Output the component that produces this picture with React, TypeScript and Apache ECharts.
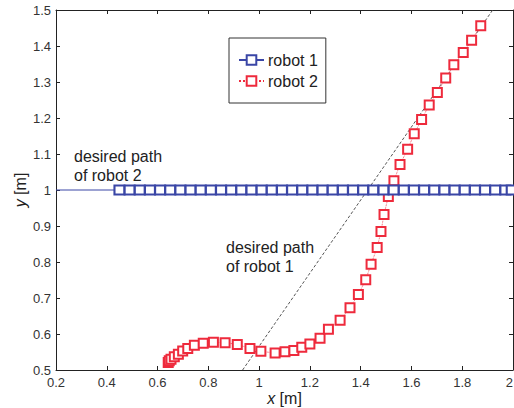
import React, { useEffect, useRef } from "react";
import * as echarts from "echarts";

// robot 2 trajectory samples (x [m], y [m])
const robot2X = [
  0.642, 0.646, 0.653, 0.666, 0.682, 0.699, 0.719, 0.745, 0.78, 0.82, 0.866, 0.914, 0.964, 1.007,
  1.063, 1.102, 1.137, 1.168, 1.2, 1.24, 1.273, 1.319, 1.358, 1.391, 1.42, 1.441, 1.465, 1.48,
  1.492, 1.509, 1.531, 1.555, 1.585, 1.611, 1.64, 1.67, 1.702, 1.735, 1.767, 1.804, 1.837, 1.873,
];
const robot2Y = [
  0.521, 0.526, 0.53, 0.537, 0.544, 0.553, 0.56, 0.569, 0.574, 0.577, 0.576, 0.571, 0.56, 0.552,
  0.547, 0.551, 0.554, 0.563, 0.572, 0.588, 0.613, 0.638, 0.673, 0.71, 0.751, 0.794, 0.84, 0.885,
  0.932, 0.982, 1.026, 1.071, 1.113, 1.156, 1.196, 1.236, 1.271, 1.311, 1.348, 1.382, 1.416, 1.456,
];

// robot 1 trajectory samples (moves along y = 1)
const robot1X = [
  0.45, 0.49, 0.53, 0.57, 0.61, 0.65, 0.69, 0.73, 0.77, 0.81, 0.85, 0.89, 0.93, 0.97, 1.01, 1.05,
  1.09, 1.13, 1.17, 1.21, 1.25, 1.29, 1.33, 1.37, 1.41, 1.45, 1.49, 1.53, 1.57, 1.61, 1.65, 1.69,
  1.73, 1.77, 1.81, 1.85, 1.89, 1.93, 1.97, 1.995,
];
const robot1Y = robot1X.map(() => 1);

// desired paths
const path2X = [0.2, 2];
const path2Y = [1, 1];
const path1X = [0.935, 1.92];
const path1Y = [0.5, 1.5];

const xTicks = { min: 0.2, max: 2, interval: 0.2 };
const yTicks = { min: 0.5, max: 1.5, interval: 0.1 };

const BLUE = "#3a46a6";
const RED = "#ee2a3c";
const AXIS = "#222";
const FONT = "Liberation Sans, Arial, Helvetica, sans-serif";

const zip = (xs: number[], ys: number[]) => xs.map((x, i) => [x, ys[i]]);

export default function App() {
  const ref = useRef<HTMLDivElement>(null);
  useEffect(() => {
    if (!ref.current) return;
    const chart = echarts.init(ref.current, undefined, { renderer: "svg" });
    const axisCommon = {
      axisLine: { show: true, lineStyle: { color: AXIS, width: 1 } },
      axisTick: { show: true, inside: true, length: 4, lineStyle: { color: AXIS } },
      splitLine: { show: false },
    };
    chart.setOption({
      animation: false,
      backgroundColor: "#fff",
      textStyle: { fontFamily: FONT },
      grid: { left: 56, right: 1, top: 10, bottom: 38, containLabel: false, outerBoundsMode: "none" },
      legend: {
        orient: "vertical",
        left: 229,
        top: 38,
        padding: [14, 8, 14, 9],
        itemGap: 5,
        itemWidth: 25,
        itemHeight: 12,
        borderColor: "#333",
        borderWidth: 1,
        backgroundColor: "#fff",
        textStyle: { fontSize: 16, color: "#222", fontFamily: FONT, padding: [0, 0, 0, -1] },
        data: ["robot 1", "robot 2"],
      },
      xAxis: [
        {
          type: "value",
          position: "bottom",
          ...xTicks,
          ...axisCommon,
          axisLabel: {
            fontSize: 13,
            color: "#333",
            margin: 6,
            fontFamily: FONT,
            alignMaxLabel: "right",
          },
          name: "{i|x} [m]",
          nameLocation: "middle",
          nameGap: 19,
          nameMoveOverlap: false,
          nameTextStyle: {
            fontSize: 16,
            lineHeight: 18,
            color: "#222",
            fontFamily: FONT,
            rich: {
              i: { fontStyle: "italic", fontSize: 16, lineHeight: 18, color: "#222", fontFamily: FONT },
            },
          },
        },
        {
          type: "value",
          position: "top",
          ...xTicks,
          ...axisCommon,
          axisLabel: { show: false },
        },
      ],
      yAxis: [
        {
          type: "value",
          position: "left",
          ...yTicks,
          ...axisCommon,
          axisLabel: { fontSize: 13, color: "#333", margin: 5, fontFamily: FONT },
          name: "{i|y} [m]",
          nameLocation: "middle",
          nameGap: 28,
          nameMoveOverlap: false,
          nameTextStyle: {
            fontSize: 16,
            color: "#222",
            fontFamily: FONT,
            rich: { i: { fontStyle: "italic", fontSize: 16, color: "#222", fontFamily: FONT } },
          },
        },
        {
          type: "value",
          position: "right",
          ...yTicks,
          ...axisCommon,
          axisLabel: { show: false },
        },
      ],
      series: [
        {
          name: "desired path of robot 1",
          type: "line",
          data: zip(path1X, path1Y),
          symbol: "none",
          lineStyle: { color: "#555", width: 1, type: [3, 2] },
          silent: true,
        },
        {
          name: "desired path of robot 2",
          type: "line",
          data: zip(path2X, path2Y),
          symbol: "none",
          lineStyle: { color: BLUE, width: 1 },
          silent: true,
        },
        {
          name: "robot 2",
          type: "line",
          data: zip(robot2X, robot2Y),
          symbol: "emptyRect",
          symbolSize: 9,
          itemStyle: { color: RED, borderWidth: 1.3 },
          lineStyle: { color: RED, width: 0.8, type: "dotted" },
        },
        {
          name: "robot 1",
          type: "line",
          data: zip(robot1X, robot1Y),
          symbol: "emptyRect",
          symbolSize: [10, 9],
          itemStyle: { color: BLUE, borderWidth: 1.3 },
          lineStyle: { color: BLUE, width: 1 },
        },
      ],
      graphic: [
        {
          type: "text",
          left: 74,
          top: 147,
          style: {
            text: "desired path\nof robot 2",
            fontSize: 16,
            lineHeight: 19,
            fill: "#222",
            fontFamily: FONT,
          },
        },
        {
          type: "text",
          left: 226,
          top: 238,
          style: {
            text: "desired path\nof robot 1",
            fontSize: 16,
            lineHeight: 19,
            fill: "#222",
            fontFamily: FONT,
          },
        },
      ],
    });
    return () => chart.dispose();
  }, []);
  return (
    <div
      ref={ref}
      style={{ position: "absolute", left: 0, top: 0, width: 514, height: 408, background: "#fff" }}
    />
  );
}
